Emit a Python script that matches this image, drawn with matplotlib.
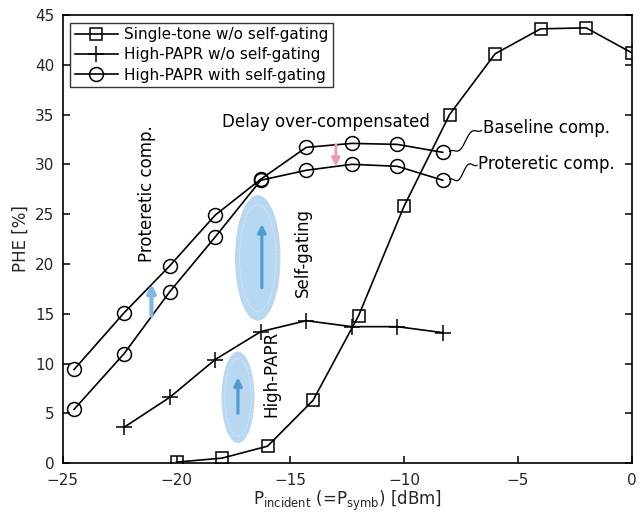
import numpy as np
import matplotlib.pyplot as plt
from matplotlib.patches import Ellipse

# single-tone input, no self-gating
st_x = [-20, -18, -16, -14, -12, -10, -8, -6, -4, -2, 0]
st_y = [0.1, 0.5, 1.7, 6.3, 14.8, 25.8, 35.0, 41.1, 43.6, 43.7, 41.2]

# high-PAPR input, no self-gating
hp_x = [-22.3, -20.3, -18.3, -16.3, -14.3, -12.3, -10.3, -8.3]
hp_y = [3.6, 6.6, 10.4, 13.2, 14.3, 13.7, 13.7, 13.1]

# high-PAPR with self-gating: baseline and proteretic compensation
sg_x = [-24.5, -22.3, -20.3, -18.3, -16.3, -14.3, -12.3, -10.3, -8.3]
base_y = [9.4, 15.1, 19.8, 24.9, 28.5, 31.7, 32.1, 32.0, 31.2]
prot_y = [5.4, 11.0, 17.2, 22.7, 28.4, 29.4, 30.0, 29.8, 28.4]

fig = plt.figure(figsize=(6.4, 5.14), dpi=100)
ax = fig.add_axes([0.098, 0.099, 0.889, 0.872])

ax.plot(st_x, st_y, 'k-', marker='s', ms=8.5, mfc='none', mew=1.1, lw=1.2,
        label='Single-tone w/o self-gating')
ax.plot(hp_x, hp_y, 'k-', marker='+', ms=11, mew=1.1, lw=1.2,
        label='High-PAPR w/o self-gating')
ax.plot(sg_x, base_y, 'k-', marker='o', ms=10, mfc='none', mew=1.1, lw=1.2,
        label='High-PAPR with self-gating')
ax.plot(sg_x, prot_y, 'k-', marker='o', ms=10, mfc='none', mew=1.1, lw=1.2)

# shaded ellipses with arrows
light = '#b8d7f0'
dark = '#4d9bd3'
for cx, cy, w, h in [(-16.43, 20.6, 2.0, 12.6), (-17.3, 6.6, 1.45, 9.2)]:
    ax.add_patch(Ellipse((cx, cy), w, h, fc=light, ec='none', zorder=1))
    ax.add_patch(Ellipse((cx, cy), w * 0.8, h * 0.85, fc='none', ec='white',
                         lw=0.5, ls='--', alpha=0.5, zorder=1))

arrows = [((-16.25, 17.6), (-16.25, 24.0), dark, 2.2),
          ((-17.3, 5.0), (-17.3, 8.6), dark, 2.2),
          ((-21.1, 14.8), (-21.1, 18.0), '#7fb8e6', 3.0),
          ((-13.0, 32.0), (-13.0, 29.8), '#f29bb0', 2.0)]
for start, end, c, w in arrows:
    ax.annotate('', xy=end, xytext=start,
                arrowprops=dict(arrowstyle='-|>', color=c, lw=w,
                                mutation_scale=12, shrinkA=0, shrinkB=0),
                zorder=2)

ax.text(-21.3, 27.1, 'Proteretic comp.', rotation=90, ha='center', va='center', fontsize=12)
ax.text(-14.45, 21.1, 'Self-gating', rotation=90, ha='center', va='center', fontsize=12)
ax.text(-15.85, 9.0, 'High-PAPR', rotation=90, ha='center', va='center', fontsize=12)
ax.text(-13.45, 34.2, 'Delay over-compensated', ha='center', va='center', fontsize=12)
ax.text(-6.55, 33.6, 'Baseline comp.', ha='left', va='center', fontsize=12)
ax.text(-6.75, 30.0, 'Proteretic comp.', ha='left', va='center', fontsize=12)

# wavy leader lines to the end circles
t = np.linspace(0, 1, 60)
for x0, y0, x1, y1 in [(-8.0, 31.3, -6.6, 33.4), (-8.0, 28.5, -6.8, 29.9)]:
    xs = x0 + (x1 - x0) * t
    ys = y0 + (y1 - y0) * t - 0.7 * np.sin(2 * np.pi * t) * np.sin(np.pi * t)
    ax.plot(xs, ys, 'k-', lw=0.9)

ax.set_xlim(-25, 0)
ax.set_ylim(0, 45)
ax.set_xticks([-25, -20, -15, -10, -5, 0])
ax.set_yticks(range(0, 46, 5))
ax.tick_params(direction='in', labelsize=11, length=5, width=1.1,
               labelcolor='#262626', top=False, right=True)
ax.tick_params(axis='x', pad=7)
ax.tick_params(axis='y', pad=6)
for s in ax.spines.values():
    s.set_linewidth(1.2)
ax.set_xlabel(r'P$_{\mathregular{incident}}$ (=P$_{\mathregular{symb}}$) [dBm]',
              fontsize=12, labelpad=1, color='#262626')
ax.set_ylabel('PHE [%]', fontsize=12, color='#262626')

leg = ax.legend(loc='upper left', fontsize=11, frameon=True, fancybox=False,
                edgecolor='black', borderpad=0.3, labelspacing=0.35,
                handlelength=2.8, handletextpad=0.4)
leg.get_frame().set_linewidth(1.0)

fig.savefig('out.png', dpi=100)
